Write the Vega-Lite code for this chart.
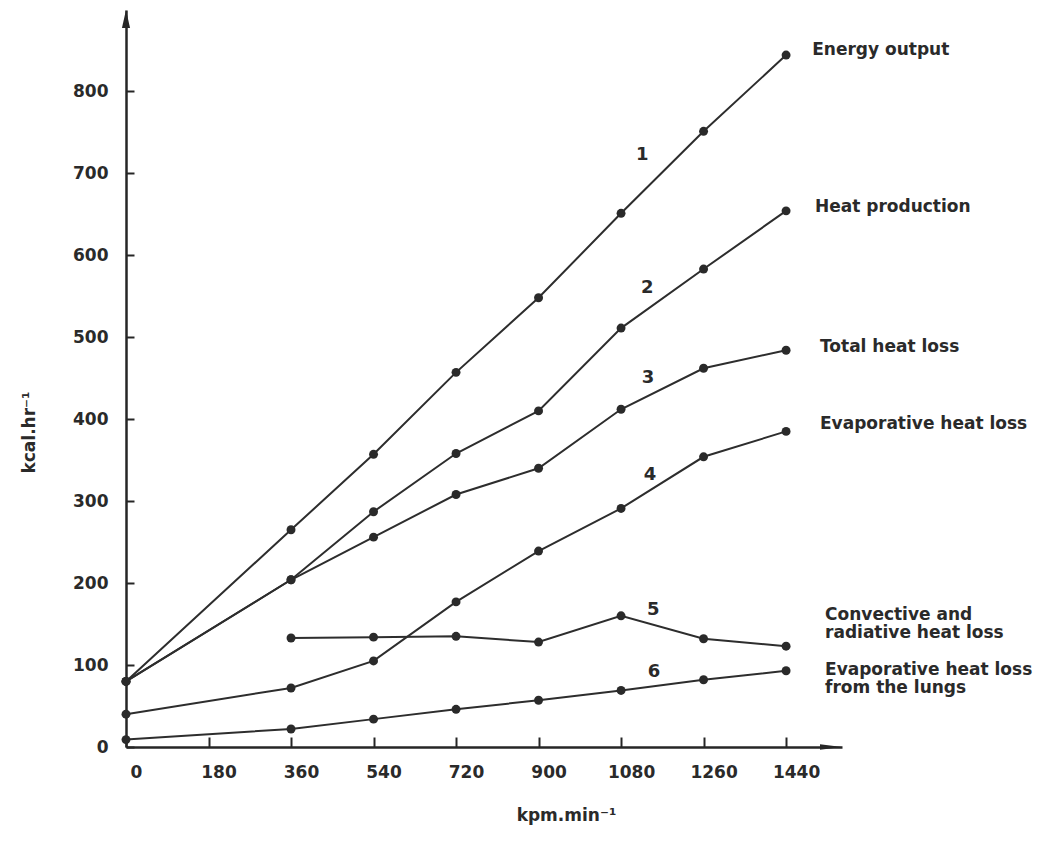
{
  "$schema": "https://vega.github.io/schema/vega-lite/v6.json",
  "width": 716,
  "height": 737,
  "autosize": {"type": "none"},
  "padding": {"left": 126, "top": 10, "right": 222, "bottom": 96},
  "background": "white",
  "config": {"view": {"stroke": null}, "font": "DejaVu Sans"},
  "datasets": {
    "series": [
      {"series": "1", "x": 0, "y": 80}, {"series": "1", "x": 360, "y": 265}, {"series": "1", "x": 540, "y": 357}, {"series": "1", "x": 720, "y": 457}, {"series": "1", "x": 900, "y": 548}, {"series": "1", "x": 1080, "y": 651}, {"series": "1", "x": 1260, "y": 751}, {"series": "1", "x": 1440, "y": 844},
      {"series": "2", "x": 0, "y": 80}, {"series": "2", "x": 360, "y": 204}, {"series": "2", "x": 540, "y": 287}, {"series": "2", "x": 720, "y": 358}, {"series": "2", "x": 900, "y": 410}, {"series": "2", "x": 1080, "y": 511}, {"series": "2", "x": 1260, "y": 583}, {"series": "2", "x": 1440, "y": 654},
      {"series": "3", "x": 0, "y": 80}, {"series": "3", "x": 360, "y": 204}, {"series": "3", "x": 540, "y": 256}, {"series": "3", "x": 720, "y": 308}, {"series": "3", "x": 900, "y": 340}, {"series": "3", "x": 1080, "y": 412}, {"series": "3", "x": 1260, "y": 462}, {"series": "3", "x": 1440, "y": 484},
      {"series": "4", "x": 0, "y": 40}, {"series": "4", "x": 360, "y": 72}, {"series": "4", "x": 540, "y": 105}, {"series": "4", "x": 720, "y": 177}, {"series": "4", "x": 900, "y": 239}, {"series": "4", "x": 1080, "y": 291}, {"series": "4", "x": 1260, "y": 354}, {"series": "4", "x": 1440, "y": 385},
      {"series": "5", "x": 360, "y": 133}, {"series": "5", "x": 540, "y": 134}, {"series": "5", "x": 720, "y": 135}, {"series": "5", "x": 900, "y": 128}, {"series": "5", "x": 1080, "y": 160}, {"series": "5", "x": 1260, "y": 132}, {"series": "5", "x": 1440, "y": 123},
      {"series": "6", "x": 0, "y": 9}, {"series": "6", "x": 360, "y": 22}, {"series": "6", "x": 540, "y": 34}, {"series": "6", "x": 720, "y": 46}, {"series": "6", "x": 900, "y": 57}, {"series": "6", "x": 1080, "y": 69}, {"series": "6", "x": 1260, "y": 82}, {"series": "6", "x": 1440, "y": 93}
    ],
    "numbers": [
      {"t": "1", "x": 1126, "y": 722},
      {"t": "2", "x": 1137, "y": 560},
      {"t": "3", "x": 1139, "y": 450},
      {"t": "4", "x": 1143, "y": 332},
      {"t": "5", "x": 1150, "y": 167},
      {"t": "6", "x": 1152, "y": 91}
    ],
    "names": [
      {"t": "Energy output", "x": 1497, "y": 844},
      {"t": "Heat production", "x": 1503, "y": 652},
      {"t": "Total heat loss", "x": 1514, "y": 482},
      {"t": "Evaporative heat loss", "x": 1514, "y": 388},
      {"t": "Convective and\nradiative heat loss", "x": 1525, "y": 155},
      {"t": "Evaporative heat loss\nfrom the lungs", "x": 1525, "y": 88}
    ]
  },
  "encoding": {
    "x": {
      "field": "x", "type": "quantitative",
      "scale": {"domain": [0, 1562], "nice": false, "zero": true},
      "axis": {
        "title": "kpm.min⁻¹",
        "values": [0, 180, 360, 540, 720, 900, 1080, 1260, 1440],
        "format": "d",
        "grid": false,
        "domainColor": "#262626", "domainWidth": 2.5,
        "tickColor": "#262626", "tickWidth": 2, "tickSize": -10,
        "labelPadding": 27, "labelOffset": 10,
        "labelFont": "DejaVu Sans", "labelFontSize": 17, "labelFontWeight": "bold", "labelColor": "#2a2a2a",
        "labelFlush": false, "labelOverlap": false,
        "titleFont": "DejaVu Sans", "titleFontSize": 17, "titleFontWeight": "bold", "titleColor": "#2a2a2a",
        "titleX": 440, "titleY": 68, "titleAlign": "center", "titleBaseline": "middle"
      }
    },
    "y": {
      "field": "y", "type": "quantitative",
      "scale": {"domain": [0, 899], "nice": false, "zero": true},
      "axis": {
        "title": "kcal.hr⁻¹",
        "values": [0, 100, 200, 300, 400, 500, 600, 700, 800],
        "format": "d",
        "grid": false,
        "domainColor": "#262626", "domainWidth": 2.5,
        "tickColor": "#262626", "tickWidth": 2, "tickSize": -8,
        "labelPadding": 26,
        "labelFont": "DejaVu Sans", "labelFontSize": 17, "labelFontWeight": "bold", "labelColor": "#2a2a2a",
        "labelFlush": false, "labelOverlap": false,
        "titleFont": "DejaVu Sans", "titleFontSize": 17, "titleFontWeight": "bold", "titleColor": "#2a2a2a",
        "titleAngle": -90, "titleX": -97, "titleY": 422, "titleAlign": "center", "titleBaseline": "middle"
      }
    }
  },
  "layer": [
    {
      "data": {"name": "series"},
      "mark": {"type": "line", "color": "#2d2d2d", "strokeWidth": 2},
      "encoding": {"detail": {"field": "series"}}
    },
    {
      "data": {"name": "series"},
      "mark": {"type": "point", "filled": true, "color": "#2a2a2a", "size": 80, "opacity": 1}
    },
    {
      "data": {"name": "numbers"},
      "mark": {"type": "text", "font": "DejaVu Sans", "fontSize": 18, "fontWeight": "bold", "color": "#2a2a2a", "align": "center", "baseline": "middle"},
      "encoding": {"text": {"field": "t"}}
    },
    {
      "data": {"name": "names"},
      "mark": {"type": "text", "font": "DejaVu Sans", "fontSize": 17, "fontWeight": "bold", "color": "#2a2a2a", "align": "left", "baseline": "alphabetic", "lineBreak": "\n", "lineHeight": 18},
      "encoding": {"text": {"field": "t"}}
    },
    {
      "data": {"values": [{"x": 0, "y": 899}]},
      "mark": {"type": "point", "filled": true, "color": "#262626", "opacity": 1, "size": 324, "shape": "M0,0 L0.45,2 L-0.45,2 Z"}
    },
    {
      "data": {"values": [{"x": 1562, "y": 0}]},
      "mark": {"type": "point", "filled": true, "color": "#262626", "opacity": 1, "size": 484, "shape": "M0,0 L-2,-0.25 L-2,0.25 Z"}
    }
  ]
}
